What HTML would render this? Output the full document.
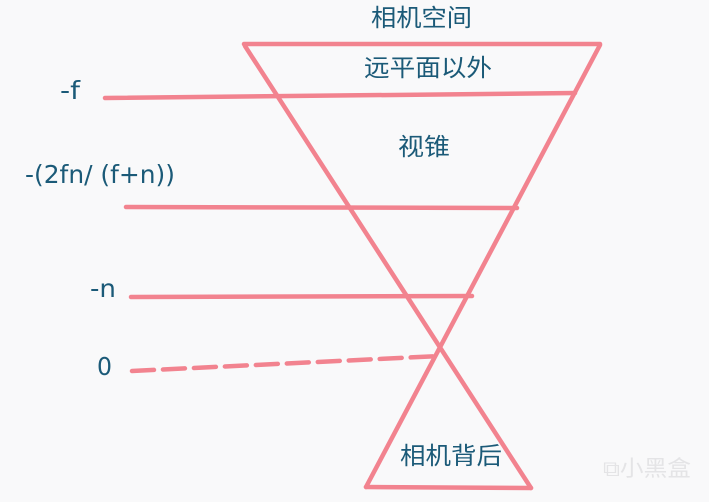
<!DOCTYPE html>
<html><head><meta charset="utf-8"><style>
html,body{margin:0;padding:0;background:#f9f9fa;}
svg{display:block;}
text{font-family:"DejaVu Sans","Noto Sans CJK SC",sans-serif;fill:#1b5a78;}
</style></head><body>
<svg width="709" height="502" viewBox="0 0 709 502" xmlns="http://www.w3.org/2000/svg">
<rect width="709" height="502" fill="#f9f9fa"/>
<g stroke="#f2838f" stroke-width="4.5" stroke-linecap="round" fill="none">
<line x1="244" y1="44" x2="600" y2="44"/>
<line x1="245" y1="46" x2="531" y2="488"/>
<line x1="600" y1="45" x2="366" y2="487"/>
<line x1="366" y1="487" x2="531" y2="488"/>
<line x1="105" y1="98" x2="575" y2="93"/>
<line x1="126" y1="207" x2="517" y2="208"/>
<line x1="131" y1="297" x2="472" y2="296"/>
<line x1="132" y1="371" x2="440" y2="356" stroke-dasharray="22 9"/>
</g>
<text x="371" y="26" font-size="24" textLength="101" lengthAdjust="spacingAndGlyphs">相机空间</text>
<text x="364" y="76" font-size="24" textLength="128" lengthAdjust="spacingAndGlyphs">远平面以外</text>
<text x="398" y="155" font-size="24" textLength="52" lengthAdjust="spacingAndGlyphs">视锥</text>
<text x="400" y="464" font-size="24" textLength="102" lengthAdjust="spacingAndGlyphs">相机背后</text>
<text x="60" y="99" font-size="25" textLength="20" lengthAdjust="spacingAndGlyphs">-f</text>
<text x="25" y="183" font-size="25" textLength="150" lengthAdjust="spacingAndGlyphs">-(2fn/ (f+n))</text>
<text x="90" y="297" font-size="25" textLength="26" lengthAdjust="spacingAndGlyphs">-n</text>
<text x="97" y="375" font-size="25" textLength="15" lengthAdjust="spacingAndGlyphs">0</text>
<text x="603" y="476" font-size="22" style="fill:#e4e4e6" textLength="88" lengthAdjust="spacingAndGlyphs">⧉小黑盒</text>
</svg>
</body></html>
